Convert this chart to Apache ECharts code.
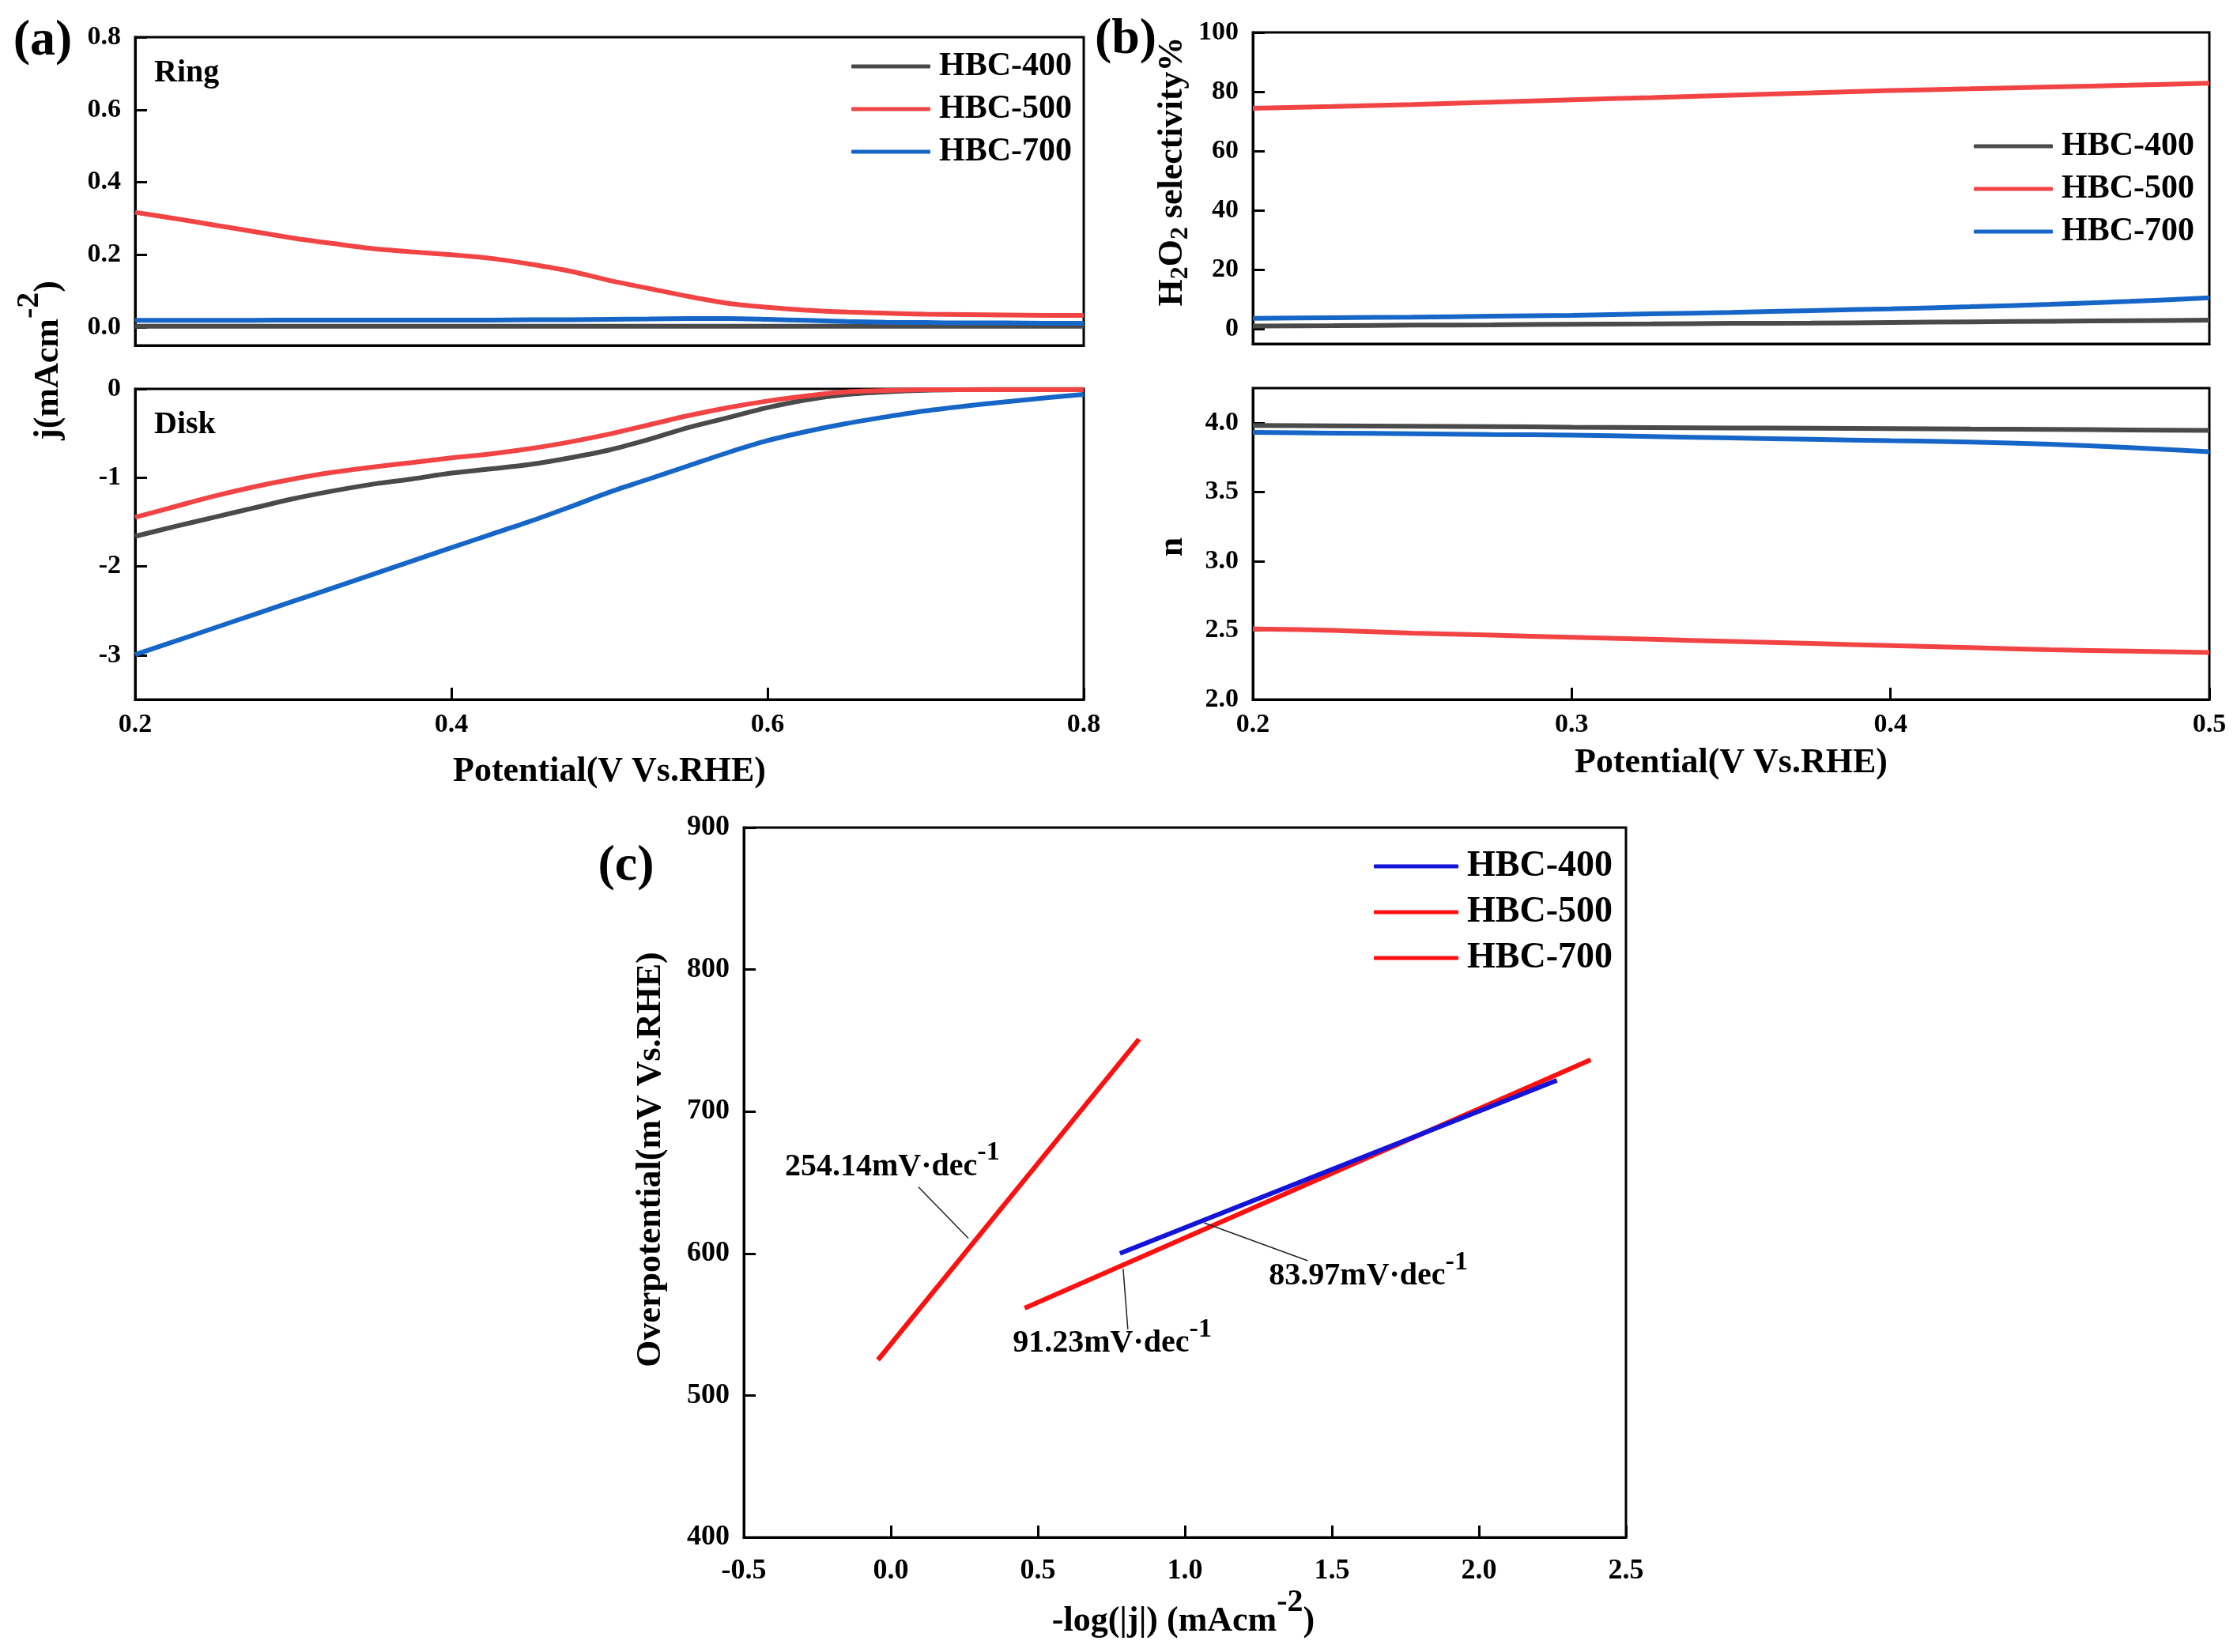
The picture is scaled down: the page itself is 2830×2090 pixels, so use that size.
<!DOCTYPE html>
<html lang="en">

<head>
    <meta charset="UTF-8">
    <title>HBC RRDE / Tafel</title>
    <script src="https://cdn.jsdelivr.net/npm/echarts@6.0.0/dist/echarts.min.js"></script>
    <style>
        body { margin: 0; background: #fff; }
    </style>
</head>

<body>
    <div id="main" style="width: 2830px;height:2090px;"></div>

    <script>
        // ---- data ----
        const sampleNames = ['HBC-400', 'HBC-500', 'HBC-700'];

        // (a) ring / disk currents vs potential
        const potentialA = [0.2, 0.225, 0.25, 0.275, 0.3, 0.325, 0.35, 0.375, 0.4, 0.425, 0.45, 0.475, 0.5,
            0.525, 0.55, 0.575, 0.6, 0.625, 0.65, 0.675, 0.7, 0.725, 0.75, 0.775, 0.8];
        const ring400 = [0.003, 0.003, 0.003, 0.003, 0.003, 0.003, 0.003, 0.003, 0.003, 0.003, 0.003, 0.003, 0.003,
            0.003, 0.003, 0.003, 0.003, 0.003, 0.003, 0.003, 0.003, 0.003, 0.003, 0.003, 0.003];
        const ring500 = [0.317, 0.300, 0.282, 0.264, 0.246, 0.231, 0.217, 0.208, 0.200, 0.190, 0.174, 0.155, 0.129,
            0.107, 0.085, 0.066, 0.055, 0.047, 0.042, 0.039, 0.036, 0.035, 0.034, 0.033, 0.033];
        const ring700 = [0.019, 0.019, 0.019, 0.019, 0.020, 0.020, 0.020, 0.020, 0.020, 0.020, 0.021, 0.021, 0.022,
            0.023, 0.024, 0.024, 0.022, 0.019, 0.016, 0.014, 0.013, 0.012, 0.012, 0.011, 0.011];
        const disk400 = [-1.661, -1.551, -1.446, -1.342, -1.238, -1.150, -1.074, -1.015, -0.949, -0.902, -0.851, -0.777, -0.688,
            -0.569, -0.435, -0.324, -0.211, -0.122, -0.063, -0.033, -0.015, -0.009, -0.006, -0.006, -0.006];
        const disk500 = [-1.446, -1.327, -1.208, -1.104, -1.015, -0.940, -0.881, -0.830, -0.777, -0.732, -0.673, -0.598, -0.509,
            -0.405, -0.301, -0.211, -0.137, -0.077, -0.033, -0.018, -0.009, -0.008, -0.008, -0.008, -0.008];
        const disk700 = [-2.994, -2.845, -2.694, -2.543, -2.393, -2.243, -2.092, -1.940, -1.789, -1.640, -1.491, -1.330, -1.164,
            -1.015, -0.866, -0.717, -0.583, -0.479, -0.390, -0.315, -0.247, -0.193, -0.146, -0.103, -0.063];

        // (b) H2O2 selectivity and electron transfer number
        const potentialB = [0.2, 0.225, 0.25, 0.275, 0.3, 0.325, 0.35, 0.375, 0.4, 0.425, 0.45, 0.475, 0.5];
        const sel400 = [1.0, 1.1, 1.3, 1.4, 1.6, 1.7, 1.9, 2.0, 2.2, 2.4, 2.6, 2.8, 3.0];
        const sel500 = [74.4, 75.0, 75.7, 76.5, 77.3, 78.0, 78.8, 79.6, 80.4, 81.0, 81.6, 82.2, 82.9];
        const sel700 = [3.6, 3.8, 4.0, 4.3, 4.6, 5.1, 5.6, 6.2, 6.8, 7.5, 8.3, 9.3, 10.5];
        const n400 = [3.98, 3.978, 3.975, 3.972, 3.968, 3.965, 3.962, 3.96, 3.958, 3.955, 3.952, 3.948, 3.944];
        const n500 = [2.51, 2.50, 2.48, 2.465, 2.45, 2.435, 2.42, 2.405, 2.39, 2.375, 2.36, 2.35, 2.34];
        const n700 = [3.93, 3.925, 3.92, 3.915, 3.91, 3.90, 3.89, 3.88, 3.87, 3.86, 3.845, 3.82, 3.79];

        // (c) Tafel fits: [-log|j|, overpotential mV] end points
        const tafel400 = [[0.779, 600], [2.265, 722]];
        const tafel500 = [[-0.044, 525], [0.844, 751]];
        const tafel700 = [[0.455, 561.5], [2.38, 736.5]];
        const slopeLabels = ['254.14', '91.23', '83.97'];

        // tick labels
        const ringTicks = [0, 0.2, 0.4, 0.6, 0.8];
        const diskTicks = [-3, -2, -1, 0];
        const selTicks = [0, 20, 40, 60, 80, 100];
        const nTicks = [2.0, 2.5, 3.0, 3.5, 4.0];

        // ---- styling ----
        const font = 'Liberation Serif';
        const colA = ['#4a4a4a', '#f24444', '#1666c8'];
        const colC = ['#1414d8', '#ff1010', '#ff1010'];

        const myChart = echarts.init(document.getElementById('main'));

        function pairs(xs, ys) {
            return xs.map((x, i) => [x, ys[i]]);
        }

        function tick(show, values) {
            const t = { show: show, inside: true, length: 15, lineStyle: { color: '#000', width: 3 } };
            if (values) t.customValues = values;
            return t;
        }

        function lbl(show, fmt, margin, size, values) {
            const l = {
                show: show, color: '#000', fontFamily: font, fontWeight: 'bold',
                fontSize: size || 34, margin: margin, formatter: fmt
            };
            if (values) l.customValues = values;
            return l;
        }

        function axis(grid, min, max, interval, label, ticks) {
            const a = {
                type: 'value', gridIndex: grid, min: min, max: max,
                axisLine: { show: true, onZero: false, lineStyle: { color: '#000', width: 3 } },
                splitLine: { show: false },
                axisLabel: label, axisTick: ticks
            };
            if (interval) a.interval = interval;
            return a;
        }

        const f1 = v => v.toFixed(1);

        function curve(name, xs, ys, color, idx) {
            return {
                type: 'line', name: name, xAxisIndex: idx, yAxisIndex: idx,
                data: pairs(xs, ys), symbol: 'none', showSymbol: false, smooth: 0.3,
                lineStyle: { color: color, width: 6 }, itemStyle: { color: color }
            };
        }

        function fit(name, pts, color) {
            return {
                type: 'line', name: name, xAxisIndex: 4, yAxisIndex: 4, data: pts,
                symbol: 'none', showSymbol: false,
                lineStyle: { color: color, width: 6 }, itemStyle: { color: color }
            };
        }

        function legendAt(left, top, colors, w, size) {
            return {
                left: left, top: top, orient: 'vertical', padding: 0, selectedMode: false,
                icon: 'roundRect', itemWidth: w, itemHeight: 5, itemGap: 10,
                textStyle: {
                    fontFamily: font, fontWeight: 'bold', fontSize: size, color: '#000',
                    lineHeight: size + 2, padding: [0, 0, 0, 6]
                },
                data: sampleNames.map((n, i) => ({ name: n, itemStyle: { color: colors[i] } }))
            };
        }

        const nameRich = {
            m: { fontFamily: font, fontWeight: 'bold', fontSize: 44, lineHeight: 88, fill: '#000' },
            s: { fontFamily: font, fontWeight: 'bold', fontSize: 40, lineHeight: 30, verticalAlign: 'top', fill: '#000' }
        };
        const subRich = {
            m: { fontFamily: font, fontWeight: 'bold', fontSize: 44, lineHeight: 52, fill: '#000' },
            b: { fontFamily: font, fontWeight: 'bold', fontSize: 32, lineHeight: 26, verticalAlign: 'bottom', fill: '#000' }
        };

        function text(x, y, str, size, opts) {
            const o = opts || {};
            return {
                type: 'text', x: x, y: y, rotation: o.rot || 0, silent: true,
                style: {
                    text: str, fontFamily: font, fontWeight: 'bold', fontSize: size, fill: '#000',
                    align: o.align || 'center', verticalAlign: 'middle', rich: o.rich
                }
            };
        }

        const noteRich = {
            m: { fontFamily: font, fontWeight: 'bold', fontSize: 40, lineHeight: 70, color: '#000' },
            s: { fontFamily: font, fontWeight: 'bold', fontSize: 34, lineHeight: 26, verticalAlign: 'top', color: '#000' }
        };
        // where each slope note sits and where its leader points (data units)
        const noteAt = [[0.005, 661], [0.753, 536.4], [1.624, 583.7]];
        const leaders = [
            [[0.094, 646.8], [0.264, 610.6]],
            [[0.806, 546.6], [0.790, 589.3]],
            [[1.418, 594.9], [1.065, 621.6]]
        ];

        const tafelLast = fit(sampleNames[2], tafel700, colC[2]);
        tafelLast.markPoint = {
            silent: true, symbol: 'circle', symbolSize: 1, itemStyle: { color: 'rgba(0,0,0,0)' },
            data: slopeLabels.map((s, i) => ({
                coord: noteAt[i],
                label: {
                    show: true, position: 'inside',
                    formatter: '{m|' + s + 'mV·dec}{s|-1}', rich: noteRich
                }
            }))
        };
        tafelLast.markLine = {
            silent: true, symbol: ['none', 'none'], label: { show: false },
            lineStyle: { color: '#222', width: 1.5, type: 'solid' },
            data: leaders.map(l => [{ coord: l[0] }, { coord: l[1] }])
        };

        const frame = { show: true, borderColor: '#000', borderWidth: 3, containLabel: false };

        const option = {
            animation: false,
            backgroundColor: '#fff',
            grid: [
                Object.assign({ left: 171, top: 47, width: 1200, height: 390 }, frame),
                Object.assign({ left: 171, top: 492, width: 1200, height: 393 }, frame),
                Object.assign({ left: 1585, top: 41, width: 1210, height: 394 }, frame),
                Object.assign({ left: 1585, top: 491, width: 1210, height: 394 }, frame),
                Object.assign({ left: 941, top: 1047, width: 1116, height: 898 }, frame)
            ],
            xAxis: [
                axis(0, 0.2, 0.8, 0.2, lbl(false), tick(false)),
                axis(1, 0.2, 0.8, 0.2, lbl(true, f1, 15), tick(true)),
                axis(2, 0.2, 0.5, 0.1, lbl(false), tick(false)),
                axis(3, 0.2, 0.5, 0.1, lbl(true, f1, 15), tick(true)),
                axis(4, -0.5, 2.5, 0.5, lbl(true, f1, 25, 36), tick(true))
            ],
            yAxis: [
                axis(0, -0.05, 0.8, null, lbl(true, f1, 18, 34, ringTicks), tick(true, ringTicks)),
                axis(1, -3.5, 0, null, lbl(true, v => String(v), 18, 34, diskTicks), tick(true, diskTicks)),
                axis(2, -5, 100, null, lbl(true, v => String(v), 18, 34, selTicks), tick(true, selTicks)),
                axis(3, 2.0, 4.25, null, lbl(true, f1, 18, 34, nTicks), tick(true, nTicks)),
                axis(4, 400, 900, 100, lbl(true, v => String(v), 18, 36), tick(true))
            ],
            legend: [
                legendAt(1077, 62, colA, 100, 42),
                legendAt(2497, 163, colA, 100, 42),
                legendAt(1738, 1072, colC, 107, 46)
            ],
            graphic: [
                text(54, 52, '(a)', 64),
                text(1424, 50, '(b)', 64),
                text(792, 1096, '(c)', 64),
                text(195, 93, 'Ring', 40, { align: 'left' }),
                text(195, 538, 'Disk', 40, { align: 'left' }),
                text(62, 456, '{m|j(mAcm}{s|-2}{m|)}', 44, { rot: Math.PI / 2, rich: nameRich }),
                text(1484, 217, '{m|H}{b|2}{m|O}{b|2}{m| selectivity%}', 44, { rot: Math.PI / 2, rich: subRich }),
                text(1484, 692, 'n', 44, { rot: Math.PI / 2 }),
                text(824, 1467, 'Overpotential(mV Vs.RHE)', 44, { rot: Math.PI / 2 }),
                text(771, 977, 'Potential(V Vs.RHE)', 44),
                text(2190, 966, 'Potential(V Vs.RHE)', 44),
                text(1497, 2052, '{m|-log(|j|) (mAcm}{s|-2}{m|)}', 44, { rich: nameRich })
            ],
            series: [
                curve(sampleNames[0], potentialA, ring400, colA[0], 0),
                curve(sampleNames[2], potentialA, ring700, colA[2], 0),
                curve(sampleNames[1], potentialA, ring500, colA[1], 0),
                curve(sampleNames[0], potentialA, disk400, colA[0], 1),
                curve(sampleNames[1], potentialA, disk500, colA[1], 1),
                curve(sampleNames[2], potentialA, disk700, colA[2], 1),
                curve(sampleNames[0], potentialB, sel400, colA[0], 2),
                curve(sampleNames[1], potentialB, sel500, colA[1], 2),
                curve(sampleNames[2], potentialB, sel700, colA[2], 2),
                curve(sampleNames[0], potentialB, n400, colA[0], 3),
                curve(sampleNames[1], potentialB, n500, colA[1], 3),
                curve(sampleNames[2], potentialB, n700, colA[2], 3),
                fit(sampleNames[1], tafel500, colC[1]),
                tafelLast,
                fit(sampleNames[0], tafel400, colC[0])
            ]
        };

        myChart.setOption(option);
    </script>
</body>

</html>
